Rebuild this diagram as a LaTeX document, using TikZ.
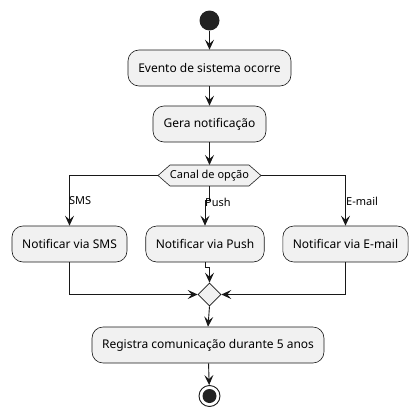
\documentclass[tikz,border=0pt]{standalone}
\usepackage{fontspec}
\setmainfont{Noto Sans}
\usetikzlibrary{arrows.meta,shapes.geometric}
\definecolor{lc}{HTML}{181818}
\definecolor{bf}{HTML}{F1F1F1}
\definecolor{dot}{HTML}{222222}
\tikzset{
  act/.style={draw=lc, fill=bf, rounded corners=11pt, line width=0.6pt, minimum height=36pt, inner xsep=10pt, font=\fontsize{12}{14}\selectfont, text=black},
  arr/.style={draw=lc, line width=0.9pt, -{Stealth[length=10pt,width=9pt,inset=4pt]}},
  ln/.style={draw=lc, line width=0.9pt},
  lbl/.style={font=\fontsize{11}{13}\selectfont, anchor=west, inner sep=0pt, text=black},
}
\begin{document}
\begin{tikzpicture}[x=1pt,y=-1pt]
\useasboundingbox (0,0) rectangle (418,415);
\node[circle, fill=dot, minimum size=20pt, inner sep=0pt] (start) at (209.5,20.5) {};
\node[act, minimum width=163pt] (e1) at (209.5,68) {Evento de sistema ocorre};
\node[act, minimum width=113pt] (e2) at (209.5,124) {Gera notificação};
% choice hexagon
\draw[draw=lc, fill=bf, line width=0.6pt] (158,175.5) -- (170,165) -- (249,165) -- (261,175.5) -- (249,186) -- (170,186) -- cycle;
\node[font=\fontsize{11}{13}\selectfont, inner sep=0pt, text=black] (ch) at (209.5,175.5) {Canal de opção};
\coordinate (chW) at (158,175.5);
\coordinate (chE) at (261,175.5);
\coordinate (chS) at (209.5,186);
\coordinate (chN) at (209.5,165);
\node[act, minimum width=115pt] (sms) at (69.5,244) {Notificar via SMS};
\node[act, minimum width=116pt] (push) at (205,244) {Notificar via Push};
\node[act, minimum width=125pt] (mail) at (345.5,244) {Notificar via E-mail};
\node[diamond, draw=lc, fill=bf, line width=0.6pt, minimum size=23pt, inner sep=0pt] (m) at (209.5,294.5) {};
\node[act, minimum width=228pt] (reg) at (208,345) {Registra comunicação durante 5 anos};
\node[circle, draw=lc, line width=0.9pt, minimum size=21pt, inner sep=0pt] (end) at (209.5,396) {};
\node[circle, fill=dot, minimum size=14pt, inner sep=0pt] (endin) at (end) {};
% connectors
\draw[arr] (start) -- (e1);
\draw[arr] (e1) -- (e2);
\draw[arr] (e2) -- (chN);
\draw[arr] (chW) -| (sms.north);
\draw[arr] (chE) -| (mail.north);
\coordinate (j1) at (209.5,200);
\coordinate (j2) at (205,200);
\draw[arr] (chS) -- (j1) -- (j2) -- (push.north);
\coordinate (k1) at (205,267);
\coordinate (k2) at (209.5,267);
\draw[arr] (push.south) -- (k1) -- (k2) -- (m.north);
\draw[arr] (sms.south) |- (m.west);
\draw[arr] (mail.south) |- (m.east);
\draw[arr] (m.south) -- (reg.north);
\draw[arr] (reg) -- (end);
\node[lbl] (lsms) at (69,201) {SMS};
\node[lbl] (lpush) at (205,202) {Push};
\node[lbl] (lmail) at (346,201) {E-mail};
\end{tikzpicture}
\end{document}
